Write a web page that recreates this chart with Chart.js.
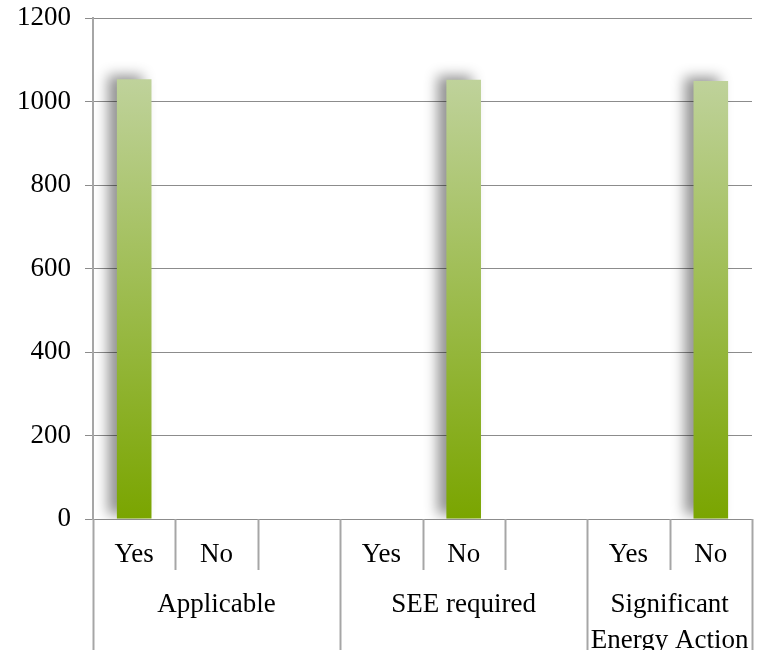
<!DOCTYPE html>
<html>
<head>
<meta charset="utf-8">
<script src="https://cdn.jsdelivr.net/npm/chart.js@4/dist/chart.umd.min.js"></script>
<style>
  body { margin: 0; background: #fff; }
  #wrap { width: 758px; height: 650px; position: relative; }
</style>
</head>
<body>
<div id="wrap"><canvas id="surveyChart"></canvas></div>
<script>
// answers per question, two-level category axis
const answerLabels = ['Yes', 'No', '', 'Yes', 'No', '', 'Yes', 'No'];
const questionGroups = ['Applicable', 'SEE required', ['Significant', 'Energy Action']];
const groupSizes = [3, 3, 2];
const counts = [1053, 1, 0, 1, 1052, 0, 1, 1049];
const yTicks = [0, 200, 400, 600, 800, 1000, 1200];

const serif = '"Liberation Serif", "Times New Roman", serif';
const fontSize = 27;

// bar shadow, drawn behind the bars only
const barShadow = {
  id: 'barShadow',
  beforeDatasetsDraw(chart) {
    const ctx = chart.ctx;
    ctx.save();
    ctx.shadowColor = 'rgba(0,0,0,0.42)';
    ctx.shadowBlur = 13;
    ctx.shadowOffsetX = -9;
    ctx.shadowOffsetY = -4;
  },
  afterDatasetsDraw(chart) {
    chart.ctx.restore();
  }
};

// category separators and the outer group labels under the axis
const groupAxis = {
  id: 'groupAxis',
  afterDraw(chart) {
    const ctx = chart.ctx;
    const x = chart.scales.x;
    const bottom = chart.chartArea.bottom;
    const w = x.width / answerLabels.length;
    const edge = i => i < answerLabels.length ? x.getPixelForValue(i) - w / 2 : x.right;

    const groupEdges = [0];
    groupSizes.forEach(n => groupEdges.push(groupEdges[groupEdges.length - 1] + n));

    ctx.save();
    ctx.strokeStyle = '#a6a6a6';
    ctx.lineWidth = 2;
    for (let i = 0; i <= answerLabels.length; i++) {
      const px = Math.round(edge(i)) + 0.5;
      const end = groupEdges.includes(i) ? chart.height : bottom + 51;
      ctx.beginPath();
      ctx.moveTo(px, bottom);
      ctx.lineTo(px, end);
      ctx.stroke();
    }

    ctx.fillStyle = '#000';
    ctx.font = fontSize + 'px ' + serif;
    ctx.textAlign = 'center';
    ctx.textBaseline = 'middle';
    questionGroups.forEach((name, g) => {
      const cx = (edge(groupEdges[g]) + edge(groupEdges[g + 1])) / 2;
      const lines = Array.isArray(name) ? name : [name];
      lines.forEach((line, k) => ctx.fillText(line, cx, bottom + 86 + k * 36));
    });
    ctx.restore();
  }
};

const ctx = document.getElementById('surveyChart').getContext('2d');

new Chart(ctx, {
  type: 'bar',
  data: {
    labels: answerLabels,
    datasets: [{
      data: counts,
      backgroundColor(c) {
        const area = c.chart.chartArea;
        if (!area) return '#9cbf4a';
        const y = c.chart.scales.y;
        const g = c.chart.ctx.createLinearGradient(0, y.getPixelForValue(1053), 0, area.bottom);
        g.addColorStop(0, '#bfd29b');
        g.addColorStop(1, '#7aa500');
        return g;
      },
      borderWidth: 0,
      barPercentage: 1,
      categoryPercentage: 0.42
    }]
  },
  options: {
    responsive: true,
    maintainAspectRatio: false,
    animation: false,
    layout: { padding: { top: 18, right: 6, left: 0, bottom: 0 } },
    plugins: {
      legend: { display: false },
      tooltip: { enabled: false }
    },
    scales: {
      x: {
        afterFit: s => { s.height = 131; s.paddingLeft = 0; s.paddingRight = 0; },
        grid: { display: false, drawTicks: false },
        border: { display: false },
        ticks: {
          color: '#000',
          font: { family: serif, size: fontSize },
          padding: 20,
          maxRotation: 0,
          autoSkip: false
        }
      },
      y: {
        min: 0,
        max: 1200,
        afterFit: s => { s.width = 93; s.paddingTop = 0; s.paddingBottom = 0; },
        afterBuildTicks: s => { s.ticks = yTicks.map(v => ({ value: v })); },
        grid: { color: '#8c8c8c', lineWidth: 1, tickLength: 8 },
        border: { color: '#a6a6a6', width: 2 },
        ticks: {
          color: '#000',
          font: { family: serif, size: fontSize },
          padding: 14,
          callback: v => String(v)
        }
      }
    }
  },
  plugins: [barShadow, groupAxis]
});
</script>
</body>
</html>
